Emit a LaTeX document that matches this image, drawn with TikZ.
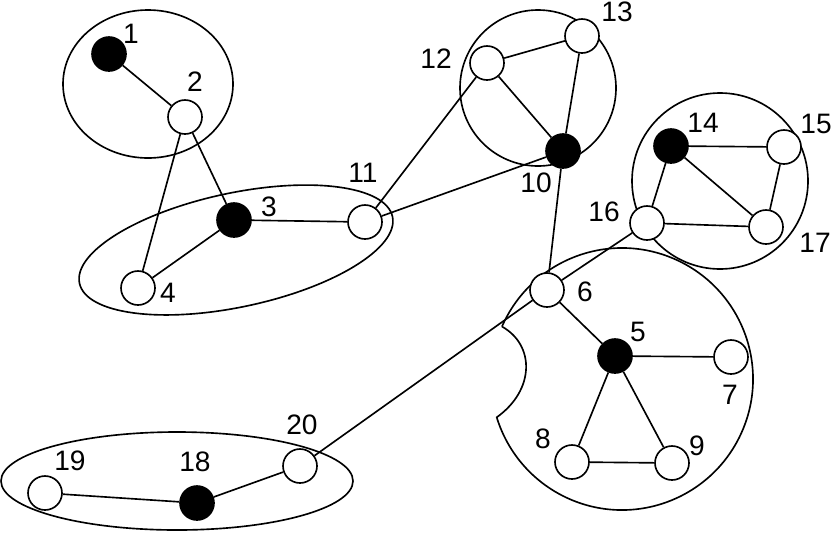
\documentclass[tikz,border=0pt]{standalone}
\usepackage{fontspec}
\setmainfont{Liberation Sans}
\usetikzlibrary{positioning}
\tikzset{
  vtx/.style={
    circle, draw=black, fill=white, line width=1.4pt,
    minimum size=10.2mm, inner sep=0pt
  },
  hub/.style={vtx, fill=black},
  num/.style={inner sep=0pt, font=\fontsize{24}{28}\selectfont},
  grp/.style={draw=black, line width=1.4pt},
  link/.style={draw=black, line width=1.4pt}
}
\begin{document}
\begin{tikzpicture}[x=0.3mm, y=-0.3mm]
    \useasboundingbox (0,0) rectangle (832,532);

    % Groups, drawn first so the vertices sit on top.
    \draw[grp] (148,84) ellipse[x radius=85, y radius=74];
    \draw[grp, rotate around={12:(236,250)}] (236,250)
      ellipse[x radius=160, y radius=57];
    \draw[grp] (538,88) circle[radius=78];
    \draw[grp] (720,181) circle[radius=88];
    \draw[grp] (177,481) ellipse[x radius=176, y radius=49];
    % Large group with a bite taken out on its left side.
    \draw[grp] ([shift={(203.6:131)}]622,379)
      arc[start angle=203.6, end angle=523, radius=131]
      .. controls (535,390) and (535,345) .. ([shift={(203.6:131)}]622,379);

    % Vertices, top left to bottom right.
    \node[hub] (n1) at (109,54) {};
    \node[vtx] (n2) at (185,117) {};
    \node[hub] (n3) at (234,220) {};
    \node[vtx] (n4) at (138,288) {};
    \node[vtx] (n11) at (365,222) {};
    \node[vtx] (n12) at (487,63) {};
    \node[vtx] (n13) at (582,36) {};
    \node[hub] (n10) at (563,151) {};
    \node[hub] (n14) at (671,146) {};
    \node[vtx] (n15) at (784,147) {};
    \node[vtx] (n16) at (647,223) {};
    \node[vtx] (n17) at (766,227) {};
    \node[vtx] (n6) at (547,290) {};
    \node[hub] (n5) at (615,356) {};
    \node[vtx] (n7) at (731,357) {};
    \node[vtx] (n8) at (572,462) {};
    \node[vtx] (n9) at (672,463) {};
    \node[vtx] (n20) at (300,466) {};
    \node[vtx] (n19) at (45,493) {};
    \node[hub] (n18) at (197,503) {};

    % Vertex numbers.
    \node[num] (t1) at (131,34) {1};
    \node[num] (t2) at (195,82) {2};
    \node[num] (t3) at (269,207) {3};
    \node[num] (t4) at (168,293) {4};
    \node[num] (t11) at (363,173) {11};
    \node[num] (t12) at (436,59) {12};
    \node[num] (t13) at (617,12) {13};
    \node[num] (t10) at (536,183) {10};
    \node[num] (t14) at (703,123) {14};
    \node[num] (t15) at (816,124) {15};
    \node[num] (t16) at (604,212) {16};
    \node[num] (t17) at (815,243) {17};
    \node[num] (t6) at (585,292) {6};
    \node[num] (t5) at (638,332) {5};
    \node[num] (t7) at (730,395) {7};
    \node[num] (t8) at (543,439) {8};
    \node[num] (t9) at (697,446) {9};
    \node[num] (t20) at (302,425) {20};
    \node[num] (t19) at (70,461) {19};
    \node[num] (t18) at (195,462) {18};

    % Edges.
    \draw[link] (n1) -- (n2);
    \draw[link] (n2) -- (n3);
    \draw[link] (n2) -- (n4);
    \draw[link] (n3) -- (n4);
    \draw[link] (n3) -- (n11);
    \draw[link] (n11) -- (n12);
    \draw[link] (n11) -- (n10);
    \draw[link] (n12) -- (n13);
    \draw[link] (n12) -- (n10);
    \draw[link] (n13) -- (n10);
    \draw[link] (n10) -- (n6);
    \draw[link] (n6) -- (n16);
    \draw[link] (n14) -- (n15);
    \draw[link] (n14) -- (n16);
    \draw[link] (n14) -- (n17);
    \draw[link] (n15) -- (n17);
    \draw[link] (n16) -- (n17);
    \draw[link] (n6) -- (n5);
    \draw[link] (n6) -- (n20);
    \draw[link] (n5) -- (n7);
    \draw[link] (n5) -- (n8);
    \draw[link] (n5) -- (n9);
    \draw[link] (n8) -- (n9);
    \draw[link] (n20) -- (n18);
    \draw[link] (n18) -- (n19);
  \end{tikzpicture}
\end{document}
